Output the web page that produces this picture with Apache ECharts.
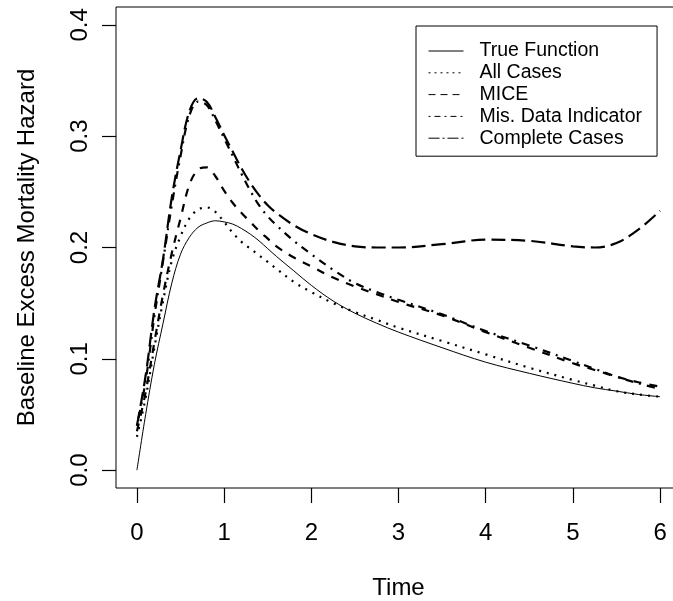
<!DOCTYPE html>
<html>
<head>
<meta charset="utf-8">
<script src="https://cdn.jsdelivr.net/npm/echarts@6/dist/echarts.min.js"></script>
<style>
html,body{margin:0;padding:0;background:#fff;}
#chart{width:673px;height:601px;}
</style>
</head>
<body>
<div id="chart"></div>
<script>
// Time grid (x values)
var time = [0,0.1,0.2,0.3,0.4,0.5,0.6,0.7,0.8,0.9,1.0,1.1,1.2,1.3,1.4,1.5,1.6,1.8,2.0,2.25,2.5,2.75,3.0,3.5,4.0,4.5,5.0,5.25,5.5,5.75,6.0];
var trueFunction = [0,0.05,0.095,0.132,0.168,0.194,0.209,0.218,0.222,0.224,0.223,0.221,0.217,0.212,0.206,0.199,0.192,0.179,0.166,0.152,0.141,0.132,0.124,0.110,0.097,0.087,0.078,0.074,0.071,0.068,0.066];
var allCases = [0.03,0.065,0.11,0.152,0.188,0.21,0.226,0.234,0.236,0.232,0.223,0.213,0.205,0.199,0.193,0.187,0.181,0.169,0.16,0.15,0.142,0.135,0.128,0.116,0.104,0.092,0.081,0.076,0.071,0.068,0.066];
var mice = [0.035,0.07,0.115,0.158,0.195,0.226,0.256,0.27,0.272,0.264,0.251,0.24,0.231,0.223,0.215,0.208,0.201,0.191,0.183,0.173,0.165,0.158,0.151,0.139,0.124,0.11,0.096,0.09,0.084,0.079,0.075];
var misDataIndicator = [0.04,0.08,0.138,0.188,0.238,0.282,0.318,0.331,0.328,0.314,0.298,0.282,0.266,0.251,0.238,0.228,0.22,0.206,0.194,0.18,0.168,0.16,0.153,0.14,0.125,0.112,0.098,0.091,0.084,0.078,0.073];
var completeCases = [0.04,0.085,0.144,0.19,0.245,0.287,0.322,0.334,0.331,0.317,0.301,0.286,0.271,0.258,0.247,0.238,0.231,0.22,0.212,0.205,0.201,0.2,0.2,0.203,0.207,0.206,0.201,0.2,0.204,0.216,0.233];

var seriesNames = ['True Function','All Cases','MICE','Mis. Data Indicator','Complete Cases'];
var xTicks = [0,1,2,3,4,5,6];
var yTicks = [0,0.1,0.2,0.3,0.4];

var FONT = '"Liberation Sans", Arial, sans-serif';

function pairs(arr){ return time.map(function(t,i){ return [t, arr[i]]; }); }

var seriesData = [trueFunction, allCases, mice, misDataIndicator, completeCases];
var plotDash = ['solid', [2,6], [8,8], [2,6,8,6], [14,6]];
var plotWidth = [1, 2.2, 2.2, 2.2, 2.2];
var legendDash = ['solid', [2,4], [7,5], [2,4,6,4], [11,3,2,3]];

var chart = echarts.init(document.getElementById('chart'), null, {renderer:'canvas'});

var series = seriesNames.map(function(name, i){
  return {
    name: name,
    type: 'line',
    data: pairs(seriesData[i]),
    symbol: 'none',
    showSymbol: false,
    smooth: 0.35,
    clip: true,
    lineStyle: {color:'#000', width: plotWidth[i], type: plotDash[i]},
    itemStyle: {color:'#000'},
    z: 2 + i
  };
});

chart.setOption({
  animation: false,
  backgroundColor: '#fff',
  textStyle: {fontFamily: FONT},
  grid: {left:116, top:7, width:565, height:481, show:true, borderColor:'#000', borderWidth:1,
         backgroundColor:'transparent', outerBoundsMode:'none', containLabel:false},
  legend: {
    orient: 'vertical',
    left: 416, top: 26,
    padding: [15, 15, 8, 12],
    itemWidth: 35, itemHeight: 14, itemGap: 1.8,
    borderColor: '#000', borderWidth: 1,
    selectedMode: false,
    itemStyle: {opacity: 0},
    textStyle: {fontSize: 19.5, color:'#000', fontFamily: FONT, lineHeight: 20, padding:[0,0,0,11]},
    data: seriesNames.map(function(n,i){
      return {name:n, itemStyle:{opacity:0}, lineStyle:{width:1, type: legendDash[i], color:'#000', opacity:1}};
    })
  },
  xAxis: {
    type: 'value', min: -0.24, max: 6.24,
    splitLine: {show:false},
    axisLine: {show:false, onZero:false},
    axisTick: {show:true, inside:false, length:15, customValues: xTicks, lineStyle:{color:'#000', width:1.2}},
    axisLabel: {customValues: xTicks, fontSize:24, color:'#000', margin:33, fontFamily: FONT,
      formatter: function(v){ return String(Math.round(v)); }},
    name: 'Time', nameLocation:'middle', nameGap: 88,
    nameTextStyle: {fontSize:24, color:'#000', fontFamily: FONT}
  },
  yAxis: {
    type: 'value', min: -0.016, max: 0.416,
    splitLine: {show:false},
    axisLine: {show:false, onZero:false},
    axisTick: {show:true, inside:false, length:14, customValues: yTicks, lineStyle:{color:'#000', width:1.2}},
    axisLabel: {customValues: yTicks, fontSize:24, color:'#000', margin:24, rotate:90, fontFamily: FONT,
      formatter: function(v){ return v.toFixed(1); }},
    name: 'Baseline Excess Mortality Hazard', nameLocation:'middle', nameGap: 77, nameRotate: 90,
    nameTextStyle: {fontSize:24, color:'#000', fontFamily: FONT}
  },
  series: series
});
</script>
</body>
</html>
